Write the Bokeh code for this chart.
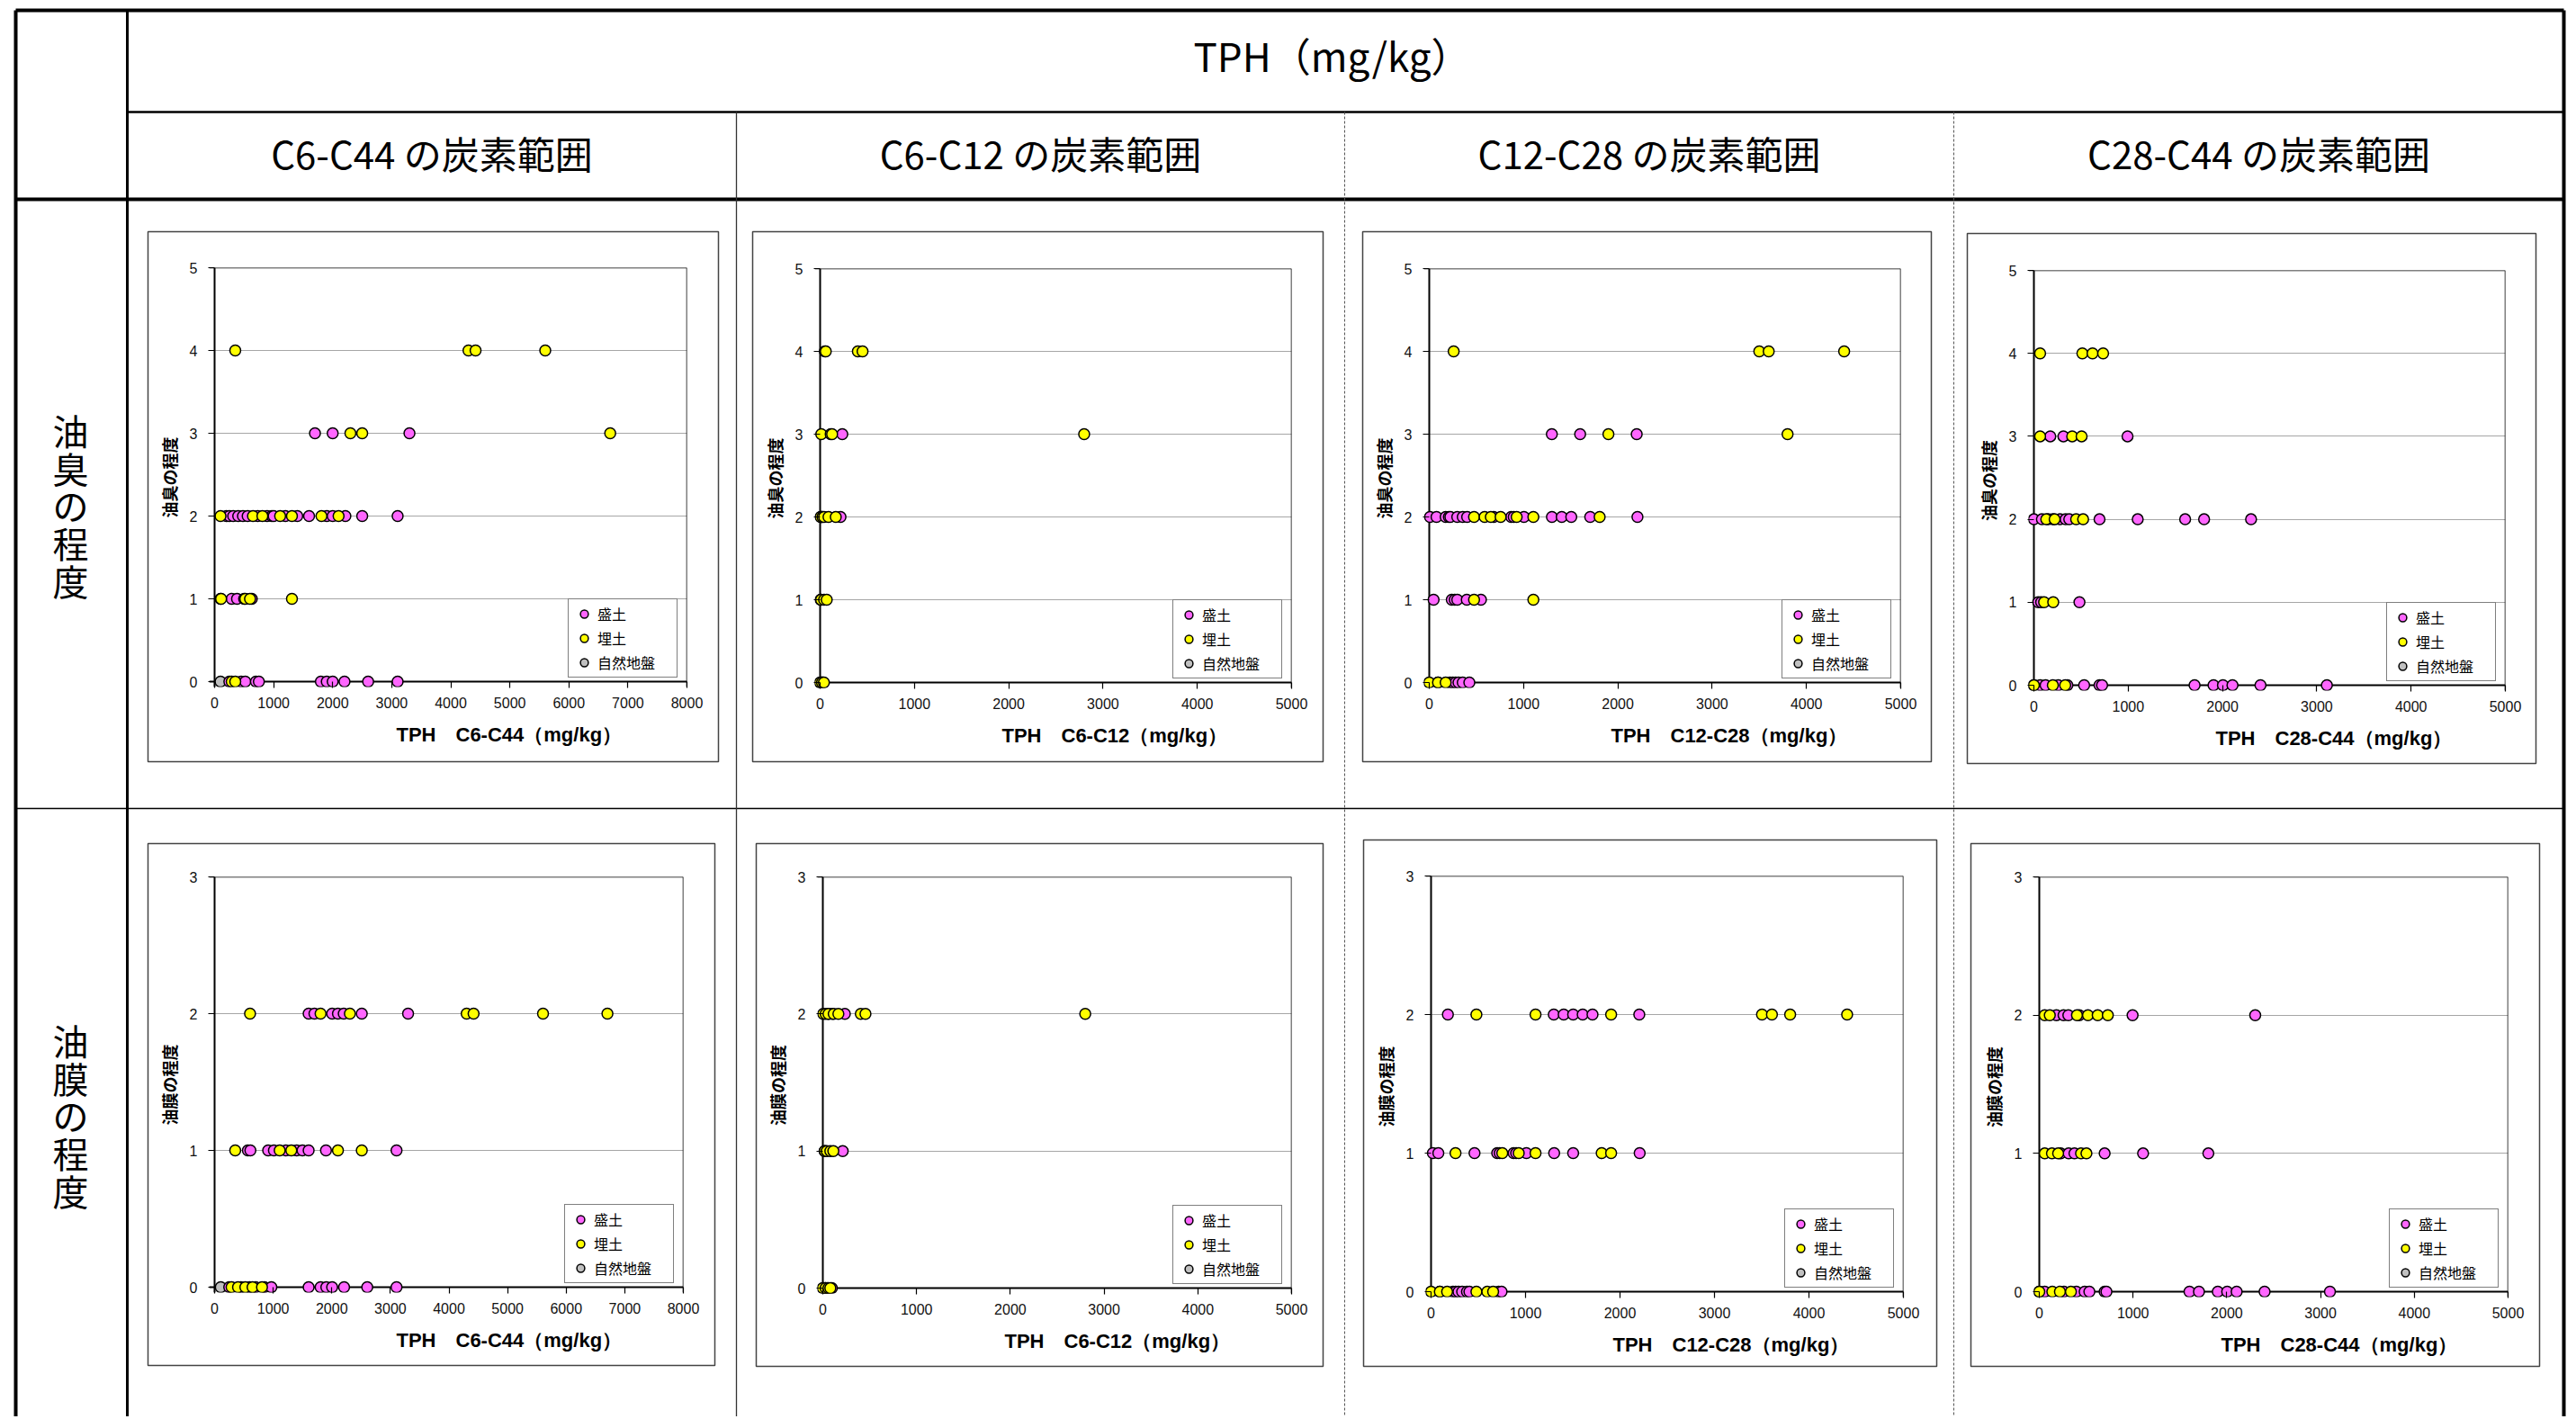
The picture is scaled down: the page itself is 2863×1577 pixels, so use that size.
from bokeh.plotting import figure
from bokeh.models import Range1d, FixedTicker, Span, Title, Legend, LegendItem
from bokeh.layouts import column
from bokeh.embed import file_html
from bokeh.resources import INLINE
from bokeh.core.properties import value

# ---------------- texts ----------------
HEAD_MAIN = "TPH（mg/kg）"
COL_HEADS = ["C6-C44 の炭素範囲", "C6-C12 の炭素範囲", "C12-C28 の炭素範囲", "C28-C44 の炭素範囲"]
ROW_HEADS = ["油臭の程度", "油膜の程度"]
Y_TITLES = ["油臭の程度", "油膜の程度"]
X_TITLES = ["TPH　C6-C44（mg/kg）", "TPH　C6-C12（mg/kg）",
            "TPH　C12-C28（mg/kg）", "TPH　C28-C44（mg/kg）"]
SERIES = ["盛土", "埋土", "自然地盤"]
X_MAX = [8000, 5000, 5000, 5000]
Y_MAX = [5, 3]

# ---------------- data: 油臭の程度 (odour) ----------------
# chart 1 : C6-C44
c1_mori_x = [1700, 2000, 3300,
             200, 250, 315, 400, 480, 560, 730, 890, 970, 1000, 1200, 1400, 1600, 1900, 2000, 2215, 2500, 3100,
             290, 380, 500, 630,
             250, 450, 520, 700, 750, 1800, 1900, 2000, 2200, 2600, 3100]
c1_mori_y = [3, 3, 3,
             2, 2, 2, 2, 2, 2, 2, 2, 2, 2, 2, 2, 2, 2, 2, 2, 2, 2,
             1, 1, 1, 1,
             0, 0, 0, 0, 0, 0, 0, 0, 0, 0, 0]
c1_umi_x = [350, 4300, 4420, 5600,
            2300, 2500, 6700,
            100, 650, 810, 1110, 1310, 1810, 2100,
            100, 110, 520, 600, 1310,
            290, 350]
c1_umi_y = [4, 4, 4, 4,
            3, 3, 3,
            2, 2, 2, 2, 2, 2, 2,
            1, 1, 1, 1, 1,
            0, 0]
c1_gray_x = [100]
c1_gray_y = [0]

# chart 2 : C6-C12
c2_mori_x = [235, 10, 20, 216, 5, 5, 30]
c2_mori_y = [3, 2, 2, 2, 1, 0, 0]
c2_umi_x = [50, 60, 400, 450,
            12, 112, 127, 2800,
            5, 25, 42, 89, 166,
            10, 42, 70,
            0, 20, 40]
c2_umi_y = [4, 4, 4, 4,
            3, 3, 3, 3,
            2, 2, 2, 2, 2,
            1, 1, 1,
            0, 0, 0]
c2_gray_x = [20]
c2_gray_y = [0]

# chart 3 : C12-C28
c3_mori_x = [1300, 1600, 2200,
             8, 77, 174, 208, 224, 297, 355, 402, 683, 869, 896, 1004, 1301, 1405, 1506, 1707, 2208,
             46, 239, 270, 297, 398, 548,
             220, 250, 280, 310, 355, 425]
c3_mori_y = [3, 3, 3,
             2, 2, 2, 2, 2, 2, 2, 2, 2, 2, 2, 2, 2, 2, 2, 2, 2,
             1, 1, 1, 1, 1, 1,
             0, 0, 0, 0, 0, 0]
c3_umi_x = [259, 3500, 3600, 4400,
            1900, 3800,
            475, 587, 653, 757, 927, 1104, 1807,
            475, 1104,
            0, 93, 174]
c3_umi_y = [4, 4, 4, 4,
            3, 3,
            2, 2, 2, 2, 2, 2, 2,
            1, 1,
            0, 0, 0]
c3_gray_x = [93]
c3_gray_y = [0]

# chart 4 : C28-C44
c4_mori_x = [174, 313, 993,
             0, 85, 151, 201, 278, 336, 375, 696, 1101, 1604, 1805, 2303,
             46, 77, 483,
             66, 124, 259, 355, 533, 696, 723, 1704, 1905, 2005, 2106, 2403, 3107]
c4_mori_y = [3, 3, 3,
             2, 2, 2, 2, 2, 2, 2, 2, 2, 2, 2, 2,
             1, 1, 1,
             0, 0, 0, 0, 0, 0, 0, 0, 0, 0, 0, 0, 0]
c4_umi_x = [66, 514, 622, 734,
            66, 406, 506,
            131, 220, 448, 522,
            108, 205,
            0, 201, 332]
c4_umi_y = [4, 4, 4, 4,
            3, 3, 3,
            2, 2, 2, 2,
            1, 1,
            0, 0, 0]
c4_gray_x = [0]
c4_gray_y = [0]

# ---------------- data: 油膜の程度 (oil film) ----------------
# chart 5 : C6-C44
c5_mori_x = [1605, 1704, 2006, 2105, 2204, 2512, 3302,
             568, 611, 914, 1012, 1216, 1401, 1500, 1605, 1901, 3105,
             250, 450, 600, 700, 850, 969, 1605, 1809, 1907, 2006, 2210, 2605, 3105]
c5_mori_y = [2, 2, 2, 2, 2, 2, 2,
             1, 1, 1, 1, 1, 1, 1, 1, 1, 1,
             0, 0, 0, 0, 0, 0, 0, 0, 0, 0, 0, 0, 0]
c5_umi_x = [605, 1809, 2309, 4302, 4420, 5605, 6704,
            352, 1111, 1309, 2105, 2512,
            290, 400, 525, 648, 809]
c5_umi_y = [2, 2, 2, 2, 2, 2, 2,
            1, 1, 1, 1, 1,
            0, 0, 0, 0, 0]
c5_gray_x = [105]
c5_gray_y = [0]

# chart 6 : C6-C12
c6_mori_x = [60, 100, 235, 20, 212, 10, 50, 96]
c6_mori_y = [2, 2, 2, 1, 1, 0, 0, 0]
c6_umi_x = [4, 30, 60, 116, 166, 405, 455, 2799,
            20, 42, 80, 112,
            0, 30, 60, 80]
c6_umi_y = [2, 2, 2, 2, 2, 2, 2, 2,
            1, 1, 1, 1,
            0, 0, 0, 0]
c6_gray_x = [30]
c6_gray_y = [0]

# chart 7 : C12-C28
c7_mori_x = [178, 1299, 1404, 1504, 1605, 1709, 2204,
             19, 77, 460, 700, 727, 874, 901, 1009, 1303, 1504, 2208,
             232, 260, 290, 329, 380, 406, 715, 746]
c7_mori_y = [2, 2, 2, 2, 2, 2, 2,
             1, 1, 1, 1, 1, 1, 1, 1, 1, 1, 1,
             0, 0, 0, 0, 0, 0, 0, 0]
c7_umi_x = [480, 1106, 1906, 3503, 3608, 3801, 4404,
            259, 754, 928, 1106, 1806, 1906,
            0, 93, 170, 480, 595, 657]
c7_umi_y = [2, 2, 2, 2, 2, 2, 2,
            1, 1, 1, 1, 1, 1,
            0, 0, 0, 0, 0, 0]
c7_gray_x = [93]
c7_gray_y = [0]

# chart 8 : C28-C44
c8_mori_x = [182, 259, 310, 426, 995, 2303,
             228, 313, 375, 697, 1107, 1803,
             58, 263, 395, 484, 534, 697, 716, 1602, 1703, 1904, 2004, 2105, 2403, 3100]
c8_mori_y = [2, 2, 2, 2, 2, 2,
             1, 1, 1, 1, 1, 1,
             0, 0, 0, 0, 0, 0, 0, 0, 0, 0, 0, 0, 0, 0]
c8_umi_x = [58, 112, 402, 519, 623, 731,
            58, 135, 201, 445, 503,
            0, 139, 220, 337]
c8_umi_y = [2, 2, 2, 2, 2, 2,
            1, 1, 1, 1, 1,
            0, 0, 0, 0]
c8_gray_x = [0]
c8_gray_y = [0]

CHART_DATA = [
    (c1_mori_x, c1_mori_y, c1_umi_x, c1_umi_y, c1_gray_x, c1_gray_y),
    (c2_mori_x, c2_mori_y, c2_umi_x, c2_umi_y, c2_gray_x, c2_gray_y),
    (c3_mori_x, c3_mori_y, c3_umi_x, c3_umi_y, c3_gray_x, c3_gray_y),
    (c4_mori_x, c4_mori_y, c4_umi_x, c4_umi_y, c4_gray_x, c4_gray_y),
    (c5_mori_x, c5_mori_y, c5_umi_x, c5_umi_y, c5_gray_x, c5_gray_y),
    (c6_mori_x, c6_mori_y, c6_umi_x, c6_umi_y, c6_gray_x, c6_gray_y),
    (c7_mori_x, c7_mori_y, c7_umi_x, c7_umi_y, c7_gray_x, c7_gray_y),
    (c8_mori_x, c8_mori_y, c8_umi_x, c8_umi_y, c8_gray_x, c8_gray_y),
]

# ---------------- layout (page pixels) ----------------
PAGE_W, PAGE_H = 2860, 1574
COLORS = ["#FF66FF", "#FFFF00", "#C0C0C0"]
CJK = "Noto Sans CJK JP"
LAT = "Liberation Sans"

# chart boxes (x0, y0, x1, y1) and plot areas (x_at_0, y_at_max, x_at_max, y_at_0)
BOXES = [(164, 257, 798, 846), (836, 257, 1470, 846), (1514, 257, 2146, 846), (2186, 259, 2818, 848),
         (164, 937, 794, 1517), (840, 937, 1470, 1518), (1515, 933, 2152, 1518), (2190, 937, 2822, 1518)]
PLOTS = [(238, 297, 763, 757), (911, 298, 1435, 758), (1588, 298, 2112, 758), (2260, 300, 2784, 761),
         (238, 974, 759, 1430), (914, 974, 1435, 1431), (1590, 973, 2115, 1435), (2266, 974, 2787, 1436)]

# ---------------- background table ----------------
bg = figure(width=PAGE_W, height=PAGE_H, x_range=Range1d(0, PAGE_W), y_range=Range1d(PAGE_H, 0),
            x_axis_type=None, y_axis_type=None, min_border=0, toolbar_location=None,
            output_backend="svg")
bg.frame_align = False
bg.outline_line_color = None
bg.background_fill_color = "white"
bg.border_fill_color = "white"


def seg(x0, y0, x1, y1, w, color="black", dash="solid"):
    bg.segment(x0=[x0], y0=[y0], x1=[x1], y1=[y1], line_width=w, line_color=color, line_dash=dash)


BOTTOM = 1620
seg(17, 11, 17, BOTTOM, 4)
seg(17, 11, 2849, 11, 4)
seg(2849, 11, 2849, BOTTOM, 4)
seg(141, 11, 141, BOTTOM, 3)
seg(141, 124, 2849, 124, 2.5)
seg(17, 221, 2849, 221, 4)
seg(17, 898, 2849, 898, 1.5)
seg(818, 124, 818, BOTTOM, 1.3, "#333")
seg(1494, 124, 1494, BOTTOM, 1, "#555", "3 2")
seg(2171, 124, 2171, BOTTOM, 1, "#555", "3 2")

for (bx0, by0, bx1, by1) in BOXES:
    bg.quad(left=[bx0], right=[bx1], top=[by0], bottom=[by1],
            fill_color="white", line_color="#444", line_width=1.5)

bg.text(x=[1480], y=[60], text=[HEAD_MAIN], text_font=value(CJK), text_font_size="44px",
        text_align="center", text_baseline="middle", text_color="black")
bg.text(x=[479.5, 1156, 1832.5, 2510], y=[169] * 4, text=COL_HEADS,
        text_font=value(CJK), text_font_size="42px", text_align="center", text_baseline="middle",
        text_color="black")
bg.text(x=[78, 78], y=[561, 1239], text=["\n".join(s) for s in ROW_HEADS],
        text_font=value(CJK), text_font_size="40px", text_align="center", text_baseline="middle",
        text_line_height=0.72, text_color="black")


# ---------------- scatter charts ----------------
def make_chart(idx):
    row, col = divmod(idx, 4)
    bx0, by0, bx1, by1 = BOXES[idx]
    px0, py0, px1, py1 = PLOTS[idx]
    pad = 6
    xmax, ymax = X_MAX[col], Y_MAX[row]
    pw, ph = px1 - px0, py1 - py0
    p = figure(width=bx1 - bx0, height=by1 - by0,
               x_range=Range1d(-pad * xmax / pw, xmax), y_range=Range1d(-pad * ymax / ph, ymax),
               min_border_left=px0 - pad - bx0, min_border_right=bx1 - px1,
               min_border_top=py0 - by0, min_border_bottom=by1 - py1 - pad,
               toolbar_location=None, output_backend="svg")
    p.frame_align = False
    p.styles = {"position": "absolute", "left": f"{bx0}px", "top": f"{by0}px"}
    p.background_fill_color = None
    p.border_fill_color = None
    p.outline_line_color = None

    p.xaxis.ticker = FixedTicker(ticks=list(range(0, xmax + 1, 1000)))
    p.yaxis.ticker = FixedTicker(ticks=list(range(0, ymax + 1)))
    p.xgrid.visible = False
    p.ygrid.grid_line_color = "#a6a6a6"
    p.ygrid.grid_line_width = 1.2
    for ax in (p.xaxis[0], p.yaxis[0]):
        ax.axis_line_color = None
        ax.major_tick_in = pad
        ax.major_tick_out = 1
        ax.major_tick_line_color = "black"
        ax.major_tick_line_width = 1.2
        ax.minor_tick_line_color = None
        ax.major_label_text_font = LAT
        ax.major_label_text_font_size = "16px"
        ax.major_label_text_color = "#111"
    p.xaxis.major_label_standoff = 10
    p.yaxis.major_label_standoff = 12
    p.yaxis.axis_label = Y_TITLES[row]
    p.yaxis.axis_label_text_font = CJK
    p.yaxis.axis_label_text_font_size = "18px"
    p.yaxis.axis_label_text_font_style = "bold"
    p.yaxis.axis_label_text_color = "black"
    p.yaxis.axis_label_standoff = 7

    for loc, dim, w in [(0, "height", 2), (0, "width", 2), (xmax, "height", 1.5), (ymax, "width", 1.5)]:
        p.add_layout(Span(location=loc, dimension=dim, line_color="black", line_width=w, level="underlay"))

    mx, my, ux, uy, gx, gy = CHART_DATA[idx]
    rs = {}
    for (xs, ys), color, name in zip([(gx, gy), (mx, my), (ux, uy)],
                                     [COLORS[2], COLORS[0], COLORS[1]],
                                     [SERIES[2], SERIES[0], SERIES[1]]):
        rs[name] = p.scatter(xs, ys, marker="circle", size=12, fill_color=color, line_color="black",
                             line_width=1.5)
    leg = Legend(items=[LegendItem(label=n, renderers=[rs[n]]) for n in SERIES])
    p.add_layout(leg)
    leg.location = "bottom_right"
    leg.margin = 10
    leg.border_line_color = "black"
    leg.border_line_width = 1
    leg.background_fill_color = "white"
    leg.background_fill_alpha = 1
    leg.label_text_font = CJK
    leg.label_text_font_size = "16px"
    leg.label_text_color = "black"
    leg.padding = 4
    leg.spacing = 3
    leg.glyph_width = 26
    leg.glyph_height = 22
    leg.label_height = 22
    leg.label_width = 84
    leg.label_standoff = 2

    t = Title(text=X_TITLES[col], align="left", offset=208, text_font=LAT, text_font_size="22px",
              text_font_style="bold", text_color="black")
    if "standoff" in Title.properties():
        t.standoff = 24
    p.add_layout(t, "below")
    return p


charts = [make_chart(i) for i in range(8)]
root = column(bg, *charts, spacing=0)
root.styles = {"position": "relative", "overflow": "hidden",
               "width": f"{PAGE_W}px", "height": f"{PAGE_H}px"}

open("out.html", "w").write(file_html(root, INLINE))
